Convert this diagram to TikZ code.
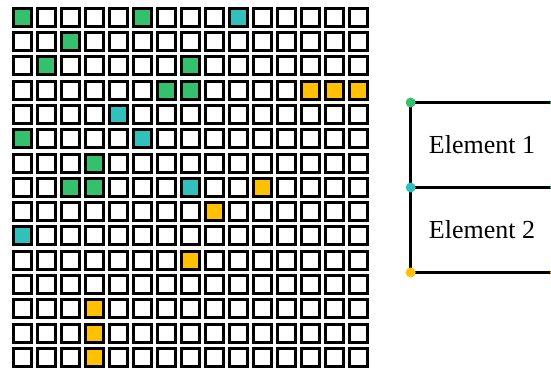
\documentclass[tikz,border=0pt]{standalone}
\usepackage{fontspec}
\setmainfont{Liberation Serif}
\definecolor{cgreen}{RGB}{52,192,108}
\definecolor{cteal}{RGB}{50,192,188}
\definecolor{cyellow}{RGB}{255,193,0}
\tikzset{
  cell/.style={rectangle, draw=black, line width=3pt, fill=white,
    minimum size=18pt, inner sep=0pt, outer sep=0pt},
  gcell/.style={fill=cgreen},
  tcell/.style={fill=cteal},
  ycell/.style={fill=cyellow},
  bar/.style={line width=3pt, draw=black},
  joint/.style={circle, inner sep=0pt, outer sep=0pt, minimum size=10pt},
  lbl/.style={font=\fontsize{26}{30}\selectfont, inner sep=0pt},
}
% coloured cells of the grid, keyed by column-row
\tikzset{
  g-0-0/.style={gcell}, g-5-0/.style={gcell}, g-2-1/.style={gcell},
  g-1-2/.style={gcell}, g-7-2/.style={gcell}, g-6-3/.style={gcell},
  g-7-3/.style={gcell}, g-0-5/.style={gcell}, g-3-6/.style={gcell},
  g-2-7/.style={gcell}, g-3-7/.style={gcell},
  g-9-0/.style={tcell}, g-4-4/.style={tcell}, g-5-5/.style={tcell},
  g-7-7/.style={tcell}, g-0-9/.style={tcell},
  g-12-3/.style={ycell}, g-13-3/.style={ycell}, g-14-3/.style={ycell},
  g-10-7/.style={ycell}, g-8-8/.style={ycell}, g-7-10/.style={ycell},
  g-3-12/.style={ycell}, g-3-13/.style={ycell}, g-3-14/.style={ycell},
}
\begin{document}
\begin{tikzpicture}[x=1pt,y=-1pt]
\useasboundingbox (0,0) rectangle (551,369);
\clip (0,0) rectangle (551,369);
\fill[white] (0,0) rectangle (551,369);

% 15 x 15 grid
\foreach \r in {0,...,14}
  \foreach \c in {0,...,14}
    \node[cell, g-\c-\r/.try] (g-\c-\r) at ({22.2+24*\c},{17.2+24.3*\r}) {};

% two stacked elements
\coordinate (t1) at (410.7,102.5);
\coordinate (t2) at (555,102.5);
\coordinate (m1) at (410.7,187.5);
\coordinate (m2) at (555,187.5);
\coordinate (b1) at (410.7,272.5);
\coordinate (b2) at (555,272.5);

\draw[bar] (t1) -- (t2);
\draw[bar] (m1) -- (m2);
\draw[bar] (b1) -- (b2);
\draw[bar] (t1) -- (b1);

\node[joint, fill=cgreen] (jt1) at (t1) {};
\node[joint, fill=cgreen] (jt2) at (t2) {};
\node[joint, fill=cteal] (jm1) at (m1) {};
\node[joint, fill=cteal] (jm2) at (m2) {};
\node[joint, fill=cyellow] (jb1) at (b1) {};
\node[joint, fill=cyellow] (jb2) at (b2) {};

\node[lbl] (e1) at (482,145) {Element 1};
\node[lbl] (e2) at (482,230) {Element 2};
\end{tikzpicture}
\end{document}
